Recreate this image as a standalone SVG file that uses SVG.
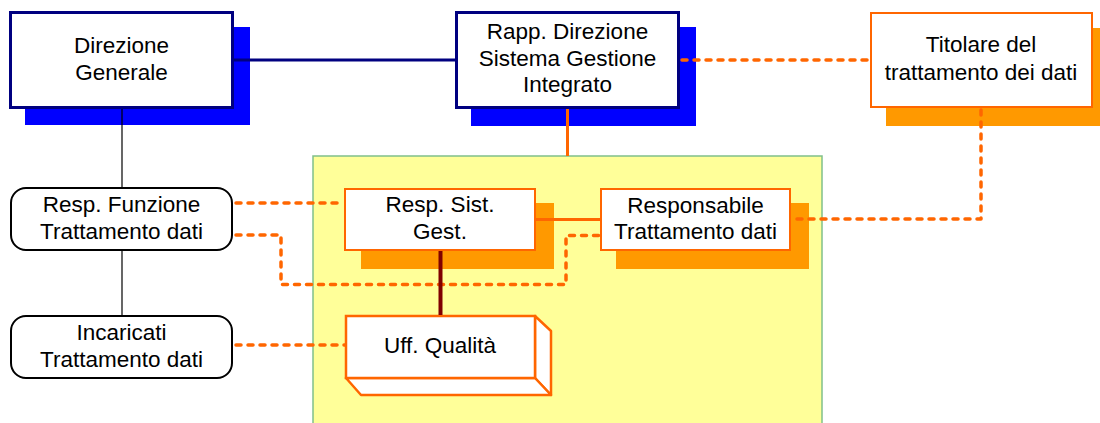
<svg xmlns="http://www.w3.org/2000/svg" width="1100" height="423" viewBox="0 0 1100 423">
  <style>
    .txt { font-family: "Liberation Sans", Arial, sans-serif; font-size: 22.5px; fill: #000; text-anchor: middle; }
    .box { fill: #fff; }
    .navy { stroke: #000080; stroke-width: 3; }
    .orange { stroke: #FF6600; stroke-width: 2; }
    .blueShadow { fill: #0000FF; }
    .orangeShadow { fill: #FF9900; }
    .round { fill: #fff; stroke: #000; stroke-width: 2; }
    .solidNavy { stroke: #000080; stroke-width: 3; fill: none; }
    .solidOrange { stroke: #FF6600; stroke-width: 3; fill: none; }
    .solidDark { stroke: #800000; stroke-width: 4; fill: none; }
    .thin { stroke: #000; stroke-width: 1.2; fill: none; }
    .dash { stroke: #FF6600; stroke-width: 3.5; fill: none; stroke-dasharray: 5 7; stroke-linecap: round; stroke-linejoin: round; }
  </style>

  <rect width="1100" height="423" fill="#fff"/>

  <!-- privacy area -->
  <g id="area">
    <rect x="313" y="156" width="509" height="280" fill="#FFFF99" stroke="#80C08A" stroke-width="1.5"/>
  </g>

  <g id="direzione-generale">
    <rect class="blueShadow" x="25" y="27" width="225" height="98"/>
    <rect class="box navy" x="10.5" y="12.5" width="222" height="95"/>
    <text class="txt" x="121.5" y="53">Direzione</text>
    <text class="txt" x="121.5" y="80">Generale</text>
  </g>

  <g id="rapp-direzione">
    <rect class="blueShadow" x="471" y="27" width="225" height="99"/>
    <rect class="box navy" x="456.5" y="12.5" width="222" height="95"/>
    <text class="txt" x="567.5" y="39">Rapp. Direzione</text>
    <text class="txt" x="567.5" y="66">Sistema Gestione</text>
    <text class="txt" x="567.5" y="92">Integrato</text>
  </g>

  <g id="titolare">
    <rect class="orangeShadow" x="886" y="28" width="224" height="98"/>
    <rect class="box orange" x="871" y="13" width="221" height="94"/>
    <text class="txt" x="981" y="52">Titolare del</text>
    <text class="txt" x="981" y="80">trattamento dei dati</text>
  </g>

  <g id="resp-sist-gest">
    <rect class="orangeShadow" x="361" y="203" width="193" height="66"/>
    <rect class="box orange" x="345" y="189" width="190" height="61"/>
    <text class="txt" x="440" y="212">Resp. Sist.</text>
    <text class="txt" x="440" y="239">Gest.</text>
  </g>

  <g id="responsabile-trattamento">
    <rect class="orangeShadow" x="616" y="203" width="193" height="66"/>
    <rect class="box orange" x="601" y="189" width="189" height="61"/>
    <text class="txt" x="695.5" y="213">Responsabile</text>
    <text class="txt" x="695.5" y="239">Trattamento dati</text>
  </g>

  <g id="resp-funzione">
    <rect class="round" x="11" y="188" width="221" height="62" rx="15"/>
    <text class="txt" x="121.5" y="212">Resp. Funzione</text>
    <text class="txt" x="121.5" y="239">Trattamento dati</text>
  </g>

  <g id="incaricati">
    <rect class="round" x="11" y="316" width="221" height="62" rx="15"/>
    <text class="txt" x="121.5" y="340">Incaricati</text>
    <text class="txt" x="121.5" y="367">Trattamento dati</text>
  </g>

  <g id="uff-qualita">
    <path d="M535,316 L551,331 L551,395 L535,378 Z" fill="#fff" stroke="#FF6600" stroke-width="2.5" stroke-linejoin="round"/>
    <path d="M346,378 L535,378 L551,395 L361,395 Z" fill="#fff" stroke="#FF6600" stroke-width="2.5" stroke-linejoin="round"/>
    <rect class="box" x="346" y="316" width="189" height="62" stroke="#FF6600" stroke-width="2.5"/>
    <text class="txt" x="440" y="353">Uff. Qualità</text>
  </g>

  <g id="connectors">
    <line class="solidNavy" x1="234" y1="60" x2="455" y2="60"/>
    <line class="thin" x1="122" y1="109" x2="122" y2="187"/>
    <line class="thin" x1="122" y1="251" x2="122" y2="315"/>
    <line class="solidOrange" x1="567.5" y1="109" x2="567.5" y2="156"/>
    <line class="solidOrange" x1="536" y1="219.5" x2="600" y2="219.5"/>
    <path class="dash" d="M682,60 L870,60"/>
    <path class="dash" d="M981,110 L981,219 L795,219"/>
    <path class="dash" d="M236,203 L344,203"/>
    <path class="dash" d="M236,235 L281,235 L281,284.5 L566,284.5 L566,235.5 L599,235.5"/>
    <path class="dash" d="M236,345 L345,345"/>
    <line class="solidDark" x1="440.5" y1="251" x2="440.5" y2="315"/>
  </g>
</svg>
